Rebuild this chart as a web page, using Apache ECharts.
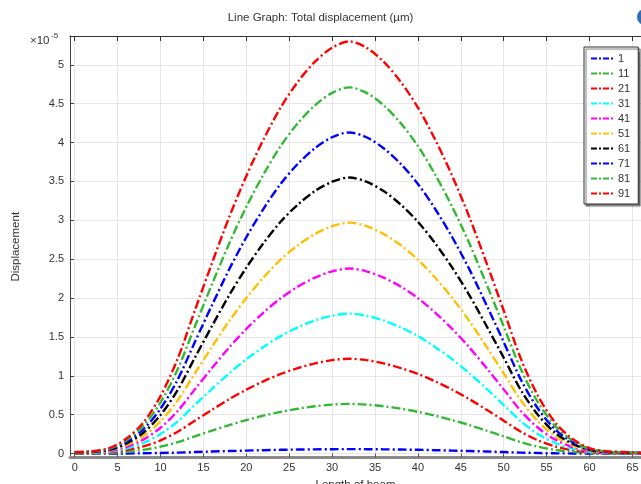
<!DOCTYPE html>
<html><head><meta charset="utf-8">
<script src="https://cdn.jsdelivr.net/npm/echarts@6/dist/echarts.min.js"></script>
<style>html,body{margin:0;padding:0;background:#fff}#c{width:641px;height:484px}</style>
</head><body><div id="c"></div>
<script>
const lengths = [0,2,4,6,8,10,12,14,16,18,20,22,24,26,28,30,32,34,36,38,40,42,44,46,48,50,52,54,56,58,60,62,64,66];
const xTicks = [0,5,10,15,20,25,30,35,40,45,50,55,60,65];
const yTicks = [0,0.5,1,1.5,2,2.5,3,3.5,4,4.5,5];
const seriesNames = ['1','11','21','31','41','51','61','71','81','91'];

const disp1  = [0,0,0.001,0.002,0.004,0.008,0.013,0.020,0.027,0.033,0.039,0.044,0.049,0.052,0.055,0.057,0.058,0.057,0.055,0.052,0.049,0.044,0.039,0.033,0.027,0.020,0.013,0.008,0.004,0.002,0.001,0,0,0];
const disp11 = [0.002,0.004,0.008,0.023,0.048,0.089,0.147,0.222,0.296,0.367,0.431,0.488,0.537,0.577,0.609,0.630,0.640,0.630,0.609,0.577,0.537,0.488,0.431,0.367,0.296,0.222,0.147,0.089,0.048,0.023,0.008,0.004,0.002,0.001];
const disp21 = [0.005,0.007,0.016,0.044,0.092,0.170,0.281,0.424,0.564,0.700,0.822,0.930,1.024,1.100,1.160,1.202,1.220,1.202,1.160,1.100,1.024,0.930,0.822,0.700,0.564,0.424,0.281,0.170,0.092,0.044,0.016,0.007,0.005,0.003];
const disp31 = [0.007,0.010,0.024,0.064,0.136,0.251,0.414,0.625,0.832,1.033,1.213,1.372,1.511,1.623,1.712,1.773,1.800,1.773,1.712,1.623,1.511,1.372,1.213,1.033,0.832,0.625,0.414,0.251,0.136,0.064,0.024,0.010,0.007,0.004];
const disp41 = [0.009,0.014,0.031,0.085,0.180,0.332,0.548,0.826,1.100,1.365,1.603,1.814,1.998,2.147,2.263,2.344,2.380,2.344,2.263,2.147,1.998,1.814,1.603,1.365,1.100,0.826,0.548,0.332,0.180,0.085,0.031,0.014,0.009,0.005];
const disp51 = [0.011,0.017,0.039,0.106,0.224,0.415,0.684,1.031,1.373,1.704,2.001,2.264,2.494,2.679,2.824,2.925,2.970,2.925,2.824,2.679,2.494,2.264,2.001,1.704,1.373,1.031,0.684,0.415,0.224,0.106,0.039,0.017,0.011,0.006];
const disp61 = [0.014,0.020,0.047,0.127,0.268,0.496,0.817,1.233,1.641,2.036,2.391,2.706,2.981,3.202,3.376,3.496,3.550,3.496,3.376,3.202,2.981,2.706,2.391,2.036,1.641,1.233,0.817,0.496,0.268,0.127,0.047,0.020,0.014,0.007];
const disp71 = [0.016,0.024,0.055,0.148,0.312,0.577,0.951,1.434,1.909,2.369,2.782,3.148,3.468,3.725,3.927,4.068,4.130,4.068,3.927,3.725,3.468,3.148,2.782,2.369,1.909,1.434,0.951,0.577,0.312,0.148,0.055,0.024,0.016,0.008];
const disp81 = [0.018,0.027,0.062,0.169,0.356,0.658,1.084,1.635,2.177,2.702,3.173,3.590,3.955,4.248,4.479,4.639,4.710,4.639,4.479,4.248,3.955,3.590,3.173,2.702,2.177,1.635,1.084,0.658,0.356,0.169,0.062,0.027,0.018,0.009];
const disp91 = [0.02,0.03,0.07,0.19,0.40,0.74,1.22,1.84,2.45,3.04,3.57,4.04,4.45,4.78,5.04,5.22,5.30,5.22,5.04,4.78,4.45,4.04,3.57,3.04,2.45,1.84,1.22,0.74,0.40,0.19,0.07,0.03,0.02,0.01];

const allDisp = [disp1,disp11,disp21,disp31,disp41,disp51,disp61,disp71,disp81,disp91];
const colors = ['#0000ff','#33b833','#ff0000','#00ffff','#ff00ff','#ffbf00','#000000','#0000ff','#33b833','#ff0000'];
const font = '"Liberation Sans", Arial, sans-serif';
const txt = {fontFamily: font, fontSize: 11, color: '#333'};
const dashDotIcon = 'path://M0,0h6v2h-6z M8,0h2v2h-2z M12,0h6v2h-6z M20,0h2v2h-2z';

const chart = echarts.init(document.getElementById('c'), null, {renderer: 'canvas'});
const series = allDisp.map((arr, i) => ({
  name: seriesNames[i],
  type: 'line',
  data: lengths.map((x, j) => [x, arr[j]]),
  smooth: 0.3,
  symbol: 'none',
  showSymbol: false,
  clip: true,
  lineStyle: {color: colors[i], width: 2.4, type: [9, 3, 2, 3]},
  itemStyle: {color: colors[i]},
  z: 2 + i
}));

chart.setOption({
  animation: false,
  backgroundColor: '#fff',
  title: {text: 'Line Graph: Total displacement (µm)', left: 'center', top: 7,
    textStyle: Object.assign({}, txt, {fontSize: 11.5, fontWeight: 'normal'})},
  grid: {left: 70, right: 0, top: 36, bottom: 26.5, containLabel: false, outerBoundsMode: 'none'},
  legend: {
    data: seriesNames.map(n => ({name: n, icon: dashDotIcon})),
    orient: 'vertical', left: 584, top: 47,
    itemWidth: 22, itemHeight: 2, itemGap: 4,
    textStyle: txt, backgroundColor: '#fff', borderColor: '#333', borderWidth: 1,
    borderRadius: 0, padding: [6, 8, 5, 7],
    shadowColor: 'rgba(0,0,0,0.55)', shadowOffsetX: 2, shadowOffsetY: 2, shadowBlur: 1
  },
  xAxis: [{
    type: 'value', min: -0.55, max: 66,
    name: 'Length of beam', nameLocation: 'middle', nameGap: 17,
    nameTextStyle: Object.assign({}, txt, {fontSize: 11.5}),
    axisLine: {onZero: false, lineStyle: {color: '#8a8a8a', width: 3}},
    axisTick: {inside: true, length: 4, customValues: xTicks, lineStyle: {color: '#555'}},
    axisLabel: Object.assign({customValues: xTicks, margin: 5}, txt),
    splitLine: {show: true, lineStyle: {color: '#e6e6e6', width: 1}}
  }, {
    type: 'value', position: 'top', min: -0.55, max: 66,
    axisLine: {onZero: false, lineStyle: {color: '#333', width: 1}},
    axisTick: {inside: true, length: 5, customValues: xTicks, lineStyle: {color: '#333'}},
    axisLabel: {show: false}, splitLine: {show: false}
  }],
  yAxis: {
    type: 'value', min: -0.05, max: 5.37,
    name: 'Displacement', nameLocation: 'middle', nameGap: 48,
    nameTextStyle: Object.assign({}, txt, {fontSize: 11.5}),
    axisLine: {onZero: false, lineStyle: {color: '#444', width: 1}},
    axisTick: {inside: true, length: 4, customValues: yTicks, lineStyle: {color: '#444'}},
    axisLabel: Object.assign({customValues: yTicks, margin: 6}, txt),
    splitLine: {show: true, lineStyle: {color: '#e6e6e6', width: 1}}
  },
  graphic: [
    {type: 'text', left: 30, top: 35, style: {text: '×10', font: '11.5px "Liberation Sans", Arial, sans-serif', fill: '#333'}},
    {type: 'text', left: 51, top: 32, style: {text: '-5', font: '8px "Liberation Sans", Arial, sans-serif', fill: '#333'}},
    {type: 'circle', shape: {cx: 645, cy: 17, r: 8}, style: {fill: '#2f6db5'}}
  ],
  series: series
});
</script></body></html>
